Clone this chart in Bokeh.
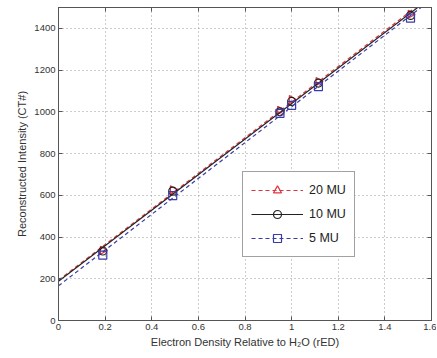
import numpy as np
from bokeh.plotting import figure
from bokeh.models import Range1d, LinearAxis, Legend, LegendItem, FixedTicker
from bokeh.embed import file_html
from bokeh.resources import INLINE

# Data
red = [0.19, 0.49, 0.95, 1.0, 1.115, 1.51]
mu20 = [337, 627, 1007, 1059, 1145, 1468]
mu10 = [333, 620, 1000, 1050, 1138, 1462]
mu5 = [313, 598, 993, 1031, 1121, 1449]
series_names = ["20 MU", "10 MU", "5 MU"]
x_ticks = [0, 0.2, 0.4, 0.6, 0.8, 1.0, 1.2, 1.4, 1.6]
y_ticks = [0, 200, 400, 600, 800, 1000, 1200, 1400]

FONT = "Liberation Sans"
TXT = "#333333"

p = figure(width=436, height=350, output_backend="svg", toolbar_location=None,
           x_range=Range1d(0, 1.6), y_range=Range1d(0, 1500),
           min_border_left=58, min_border_right=5, min_border_top=7, min_border_bottom=26)
p.background_fill_color = "white"
p.outline_line_color = "#555555"

for ax in (p.xaxis[0], p.yaxis[0]):
    ax.major_tick_in = 4
    ax.major_tick_out = 0
    ax.minor_tick_in = 0
    ax.minor_tick_out = 0
    ax.axis_line_color = "#555555"
    ax.major_tick_line_color = "#555555"
    ax.major_label_text_font = FONT
    ax.major_label_text_font_size = "9.5px"
    ax.major_label_text_color = TXT
    ax.axis_label_text_font = FONT
    ax.axis_label_text_font_size = "11px"
    ax.axis_label_text_font_style = "normal"
    ax.axis_label_text_color = TXT
    ax.major_label_standoff = 3
    ax.axis_label_standoff = 3

p.xaxis[0].ticker = FixedTicker(ticks=x_ticks)
p.yaxis[0].ticker = FixedTicker(ticks=y_ticks)
p.xaxis[0].major_label_overrides = {0: "0", 1: "1"}
p.xaxis[0].axis_label = "Electron Density Relative to H\u2082O (rED)"
p.yaxis[0].axis_label = "Reconstructed Intensity (CT#)"

for loc in ("right", "above"):
    ticks = x_ticks if loc == "above" else y_ticks
    ax = LinearAxis(ticker=FixedTicker(ticks=ticks),
                    major_label_overrides={t: "" for t in ticks},
                    major_tick_in=4, major_tick_out=0,
                    minor_tick_in=0, minor_tick_out=0, axis_line_color="#555555",
                    major_tick_line_color="#555555", major_label_standoff=0)
    p.add_layout(ax, loc)

p.xgrid.ticker = FixedTicker(ticks=x_ticks)
p.ygrid.ticker = FixedTicker(ticks=y_ticks)
p.grid.grid_line_color = "#999999"
p.grid.grid_line_dash = "1 3"
p.grid.grid_line_width = 1

x = np.array(red)
fx = np.array([0.0, 1.6])
colors = ["#e0343c", "#222222", "#3a3aa8"]
dashes = ["4 3", "solid", "4 3"]
markers = ["triangle", "circle", "square"]
angles = [-np.pi / 2, 0, 0]

items = []
for name, ys, c, d, m, a in zip(series_names, [mu20, mu10, mu5], colors, dashes, markers, angles):
    k, b = np.polyfit(x, np.array(ys, dtype=float), 1)
    lr = p.line(fx, k * fx + b, line_color=c, line_dash=d, line_width=1.2)
    sr = p.scatter(x, ys, marker=m, size=8, angle=a, fill_color=None, line_color=c, line_width=1.2)
    items.append(LegendItem(label=name, renderers=[lr, sr]))

legend = Legend(items=items, location=(184, 63))
legend.label_text_font = FONT
legend.label_text_font_size = "12.5px"
legend.label_text_color = "#222222"
legend.glyph_width = 52
legend.glyph_height = 20
legend.label_height = 20
legend.label_standoff = 6
legend.spacing = 4
legend.padding = 8
legend.margin = 0
legend.border_line_color = "#444444"
legend.border_line_width = 1
legend.background_fill_alpha = 1
p.add_layout(legend, "center")

open("out.html", "w").write(file_html(p, INLINE))
